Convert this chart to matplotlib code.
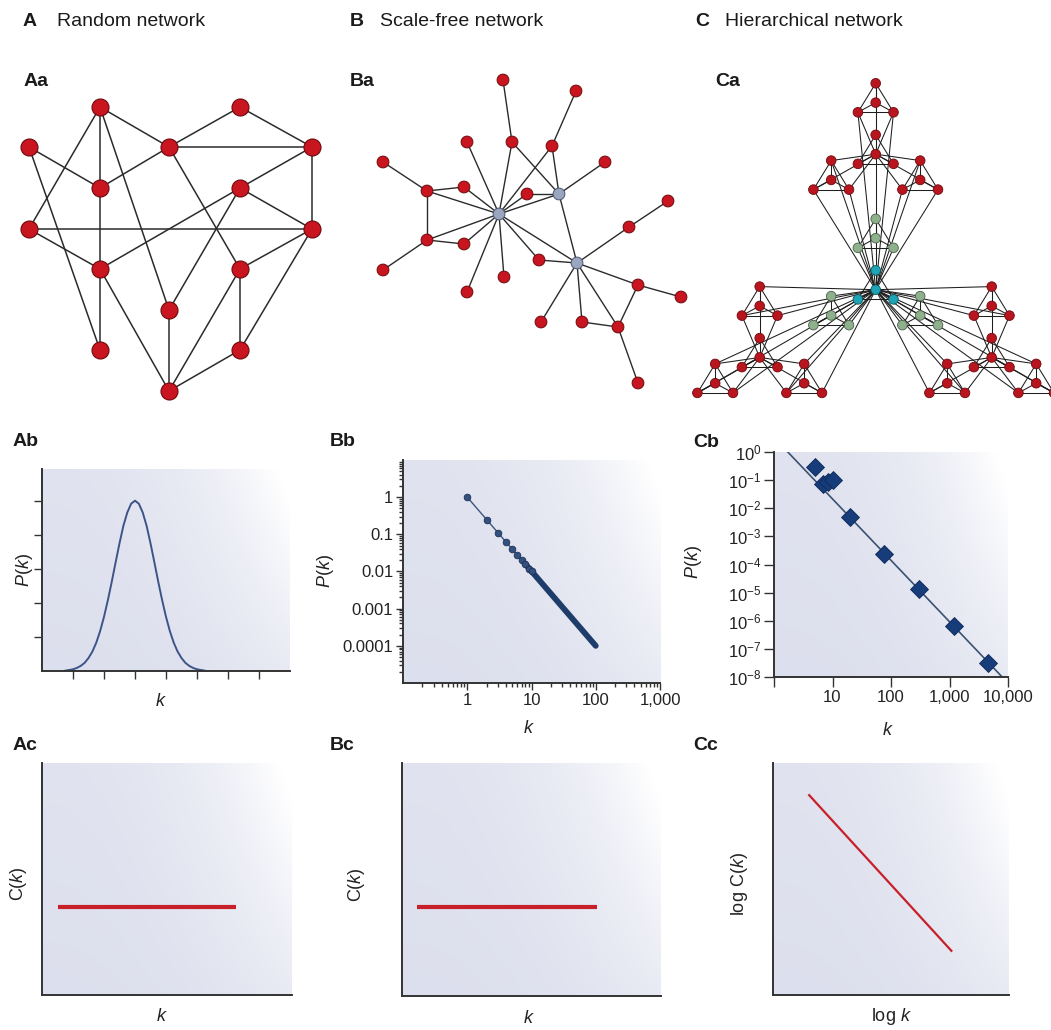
import numpy as np
import matplotlib
matplotlib.use('Agg')
import matplotlib.pyplot as plt
from matplotlib.collections import LineCollection
from matplotlib.ticker import FixedLocator, FixedFormatter, LogLocator, NullFormatter, NullLocator

W, H = 1051, 1030

# ---------------- data ----------------
# Aa: random network (node positions in picture pixels)
aa_x = [100, 240, 29, 169, 312, 100, 240, 29, 312, 100, 240, 169, 100, 240, 169]
aa_y = [107, 107, 147, 147, 147, 188, 188, 229, 229, 269, 269, 310, 350, 350, 391]
aa_edges = [(0, 3), (0, 5), (0, 7), (0, 11), (1, 3), (1, 4), (3, 4), (3, 5), (3, 10),
            (2, 5), (2, 12), (4, 6), (4, 8), (5, 9), (6, 8), (6, 9), (6, 11), (7, 8),
            (7, 9), (8, 10), (8, 13), (9, 12), (9, 14), (10, 13), (10, 14), (11, 14),
            (13, 14)]

# Ba: scale-free network, first three nodes are hubs
ba_x = [499, 559, 577, 503, 576, 512, 467, 552, 383, 605, 427, 464, 527, 668,
        629, 427, 464, 383, 539, 504, 467, 638, 681, 541, 582, 618, 638]
ba_y = [214, 194, 263, 80, 91, 142, 142, 146, 162, 162, 191, 187, 194, 201,
        227, 240, 244, 270, 260, 277, 292, 285, 297, 322, 322, 327, 383]
ba_hubs = [0, 1, 2]
ba_edges = [(3, 5), (5, 0), (5, 1), (4, 7), (7, 0), (7, 1), (6, 0), (8, 10), (10, 11),
            (10, 0), (10, 15), (11, 0), (12, 0), (12, 1), (0, 1), (9, 1), (1, 2),
            (13, 14), (14, 2), (15, 0), (15, 16), (15, 17), (16, 0), (0, 20), (0, 19),
            (0, 18), (0, 2), (18, 2), (2, 21), (21, 22), (21, 25), (2, 23), (2, 24),
            (2, 25), (24, 25), (25, 26)]

# Ca: hierarchical network (triangle apex, half widths and heights per level)
ca_apex = (875.7, 83.3)
ca_half_w = [17.8, 44.5, 116.0]
ca_height = [29.0, 77.3, 203.3]

# Ab: Poisson-like degree distribution (tick units)
ab_k = [0.75, 0.875, 1.0, 1.125, 1.25, 1.375, 1.5, 1.625, 1.75, 1.875, 2.0, 2.125,
        2.25, 2.375, 2.5, 2.625, 2.75, 2.875, 3.0, 3.125, 3.25, 3.375, 3.5, 3.625,
        3.75, 3.875, 4.0, 4.125, 4.25, 4.375, 4.5, 4.625, 4.75, 4.875, 5.0, 5.125, 5.25]
ab_p = [0.01, 0.03, 0.05, 0.09, 0.15, 0.24, 0.38, 0.57, 0.83, 1.17, 1.59, 2.08,
        2.62, 3.19, 3.75, 4.26, 4.65, 4.91, 5.0, 4.91, 4.65, 4.26, 3.75, 3.19,
        2.62, 2.08, 1.59, 1.17, 0.83, 0.57, 0.38, 0.24, 0.15, 0.09, 0.05, 0.03, 0.01]

# Bb: scale-free P(k)
bb_dot_k = [1, 2, 3, 4, 5, 6, 7, 8, 9, 10]
bb_dot_p = [1.0, 0.25, 0.11, 0.063, 0.04, 0.028, 0.02, 0.016, 0.012, 0.01]
bb_band_k = [8, 100]
bb_band_p = [0.016, 0.0001]
bb_fit_k = [1, 100]
bb_fit_p = [1, 0.0001]
bb_xticks = [1, 10, 100, 1000]
bb_xlabels = ['1', '10', '100', '1,000']
bb_yticks = [1, 0.1, 0.01, 0.001, 0.0001]
bb_ylabels = ['1', '0.1', '0.01', '0.001', '0.0001']

# Cb: hierarchical P(k)
cb_k = [5, 7, 8.5, 10, 20, 77, 300, 1200, 4600]
cb_p = [0.3, 0.075, 0.085, 0.1, 0.005, 2.3e-4, 1.3e-5, 6.3e-7, 3.1e-8]
cb_fit_k = [1.72, 7950]
cb_fit_p = [1, 1e-8]
cb_xticks = [1, 10, 100, 1000, 10000]
cb_xlabels = ['', '10', '100', '1,000', '10,000']
cb_yexp = [0, -1, -2, -3, -4, -5, -6, -7, -8]

# C(k) sketches (axes fractions)
ac_k, ac_c = [0.065, 0.776], [0.38, 0.38]
bc_k, bc_c = [0.058, 0.752], [0.38, 0.38]
cc_k, cc_c = [0.15, 0.759], [0.865, 0.187]

# ---------------- style ----------------
plt.rcParams['font.family'] = ['Liberation Sans', 'DejaVu Sans']
plt.rcParams['mathtext.fontset'] = 'custom'
plt.rcParams['mathtext.rm'] = 'Liberation Sans'
plt.rcParams['mathtext.it'] = 'Liberation Sans:italic'
plt.rcParams['mathtext.bf'] = 'Liberation Sans:bold'

RED = '#c8151f'
RED_EDGE = '#6e0a0e'
EDGE = '#2b2b2b'
NAVY = '#1f3d6b'
AX = '#333333'

fig = plt.figure(figsize=(W / 100, H / 100), dpi=100)


def px_rect(l, t, r, b):
    return [l / W, 1 - b / H, (r - l) / W, (b - t) / H]


# background: light lavender, fading to white towards the upper right
gx, gy = np.meshgrid(np.linspace(0, 1, 300), np.linspace(0, 1, 300))
base = np.array([0.865, 0.875, 0.93])
fade = np.clip(gx ** 2.5 * (0.35 + 0.65 * gy) + 0.12 * gy, 0, 1)
grad = base + (1 - base) * fade[..., None]


def panel(l, t, r, b):
    bg = fig.add_axes(px_rect(l, t, r, b), zorder=0)
    bg.imshow(grad, extent=[0, 1, 0, 1], aspect='auto', origin='lower')
    bg.axis('off')
    ax = fig.add_axes(px_rect(l, t, r, b), zorder=1)
    ax.patch.set_alpha(0)
    for s in ['top', 'right']:
        ax.spines[s].set_visible(False)
    for s in ['left', 'bottom']:
        ax.spines[s].set_linewidth(1.4)
        ax.spines[s].set_color(AX)
    ax.tick_params(which='both', colors=AX, width=1, direction='out', labelsize=12,
                   labelcolor='#222222')
    ax.tick_params(which='major', length=6)
    ax.tick_params(which='minor', length=3)
    return ax


def label(ax, x, y, s, rot=0):
    ax.text(x, y, s, transform=ax.transAxes, ha='center', va='center', rotation=rot,
            fontsize=13, color='#222222', clip_on=False)


# ---------------- networks (pixel coordinates) ----------------
net = fig.add_axes([0, 0, 1, 1], zorder=2)
net.set_xlim(0, W)
net.set_ylim(H, 0)
net.axis('off')
net.patch.set_alpha(0)

# Aa
segs = [[(aa_x[a], aa_y[a]), (aa_x[b], aa_y[b])] for a, b in aa_edges]
net.add_collection(LineCollection(segs, colors=EDGE, linewidths=1.1, zorder=1))
net.scatter(aa_x, aa_y, s=150, c=RED, edgecolors=RED_EDGE, linewidths=0.8, zorder=2)

# Ba
segs = [[(ba_x[a], ba_y[a]), (ba_x[b], ba_y[b])] for a, b in ba_edges]
net.add_collection(LineCollection(segs, colors=EDGE, linewidths=1.0, zorder=1))
cols = ['#9aa5bf' if i in ba_hubs else RED for i in range(len(ba_x))]
ecols = ['#4d5670' if i in ba_hubs else RED_EDGE for i in range(len(ba_x))]
net.scatter(ba_x, ba_y, s=72, c=cols, edgecolors=ecols, linewidths=0.7, zorder=2)

# Ca: modules of 4 nodes, replicated twice around a central copy
corners = ['apex', 'left', 'right', 'center']


def corner_off(level, c):
    w, h = ca_half_w[level], ca_height[level]
    return {'apex': (0, 0), 'left': (-w, h), 'right': (w, h), 'center': (0, 2 * h / 3)}[c]


pos = {}
for i in corners:
    for j in corners:
        for m in corners:
            o3, o2, o1 = corner_off(2, i), corner_off(1, j), corner_off(0, m)
            pos[(i, j, m)] = (ca_apex[0] + o3[0] + o2[0] + o1[0],
                              ca_apex[1] + o3[1] + o2[1] + o1[1])

ca_segs = []
outer = ['apex', 'left', 'right']
for i in corners:
    for j in corners:
        for a in range(4):
            for b in range(a + 1, 4):
                ca_segs.append([pos[(i, j, corners[a])], pos[(i, j, corners[b])]])
    for j in outer:
        for m in outer:
            ca_segs.append([pos[(i, j, m)], pos[(i, 'center', 'center')]])
for i in outer:
    for j in outer:
        for m in outer:
            ca_segs.append([pos[(i, j, m)], pos[('center', 'center', 'center')]])
net.add_collection(LineCollection(ca_segs, colors='#1e1e1e', linewidths=0.75, zorder=1))

cx, cy, cc, ce = [], [], [], []
for key, (x, y) in pos.items():
    cx.append(x)
    cy.append(y)
    if key[0] == 'center' and key[1] == 'center':
        cc.append('#1fa4b6'); ce.append('#0b5560')
    elif key[0] == 'center':
        cc.append('#8fb08c'); ce.append('#4a6048')
    else:
        cc.append('#b8151f'); ce.append(RED_EDGE)
net.scatter(cx, cy, s=48, c=cc, edgecolors=ce, linewidths=0.6, zorder=2)

# ---------------- texts ----------------
def ftext(x, y, s, **kw):
    fig.text(x / W, 1 - y / H, s, ha='left', va='center', color='#1a1a1a', **kw)


for letter, lx, name, nx in [('A', 23, 'Random network', 57),
                             ('B', 350, 'Scale-free network', 380),
                             ('C', 695, 'Hierarchical network', 725)]:
    ftext(lx, 21, letter, fontsize=14, fontweight='bold')
    ftext(nx, 21, name, fontsize=14)
for s, x, y in [('Aa', 24, 81), ('Ba', 350, 81), ('Ca', 715, 81),
                ('Ab', 13, 442), ('Bb', 330, 441), ('Cb', 693, 443),
                ('Ac', 13, 746), ('Bc', 330, 746), ('Cc', 693, 746)]:
    ftext(x, y, s, fontsize=14, fontweight='bold')

# ---------------- Ab ----------------
ax = panel(42, 469, 290, 671)
ax.plot(ab_k, ab_p, color='#3d5488', lw=1.4)
ax.set_xlim(0, 8)
ax.set_ylim(0, 5.93)
ax.set_xticks(range(1, 8))
ax.set_yticks(range(1, 6))
ax.tick_params(labelbottom=False, labelleft=False)
label(ax, 0.48, -0.152, '$k$')
label(ax, -0.069, 0.5, '$P(k)$', 90)

# ---------------- Bb ----------------
ax = panel(403, 460, 660, 683)
ax.set_xscale('log')
ax.set_yscale('log')
ax.set_xlim(0.1, 1000)
ax.set_ylim(1e-5, 10)
ax.plot(bb_fit_k, bb_fit_p, color='#3b5580', lw=1.0)
ax.plot(bb_band_k, bb_band_p, color=NAVY, lw=4.2, solid_capstyle='round')
ax.plot(bb_dot_k, bb_dot_p, 'o', ms=4.8, color='#34507e', mec='#1c3158', mew=0.6)
ax.xaxis.set_major_locator(FixedLocator(bb_xticks))
ax.xaxis.set_major_formatter(FixedFormatter(bb_xlabels))
ax.xaxis.set_minor_locator(LogLocator(subs=np.arange(2, 10), numticks=20))
ax.xaxis.set_minor_formatter(NullFormatter())
ax.yaxis.set_major_locator(FixedLocator(bb_yticks))
ax.yaxis.set_major_formatter(FixedFormatter(bb_ylabels))
ax.yaxis.set_minor_locator(LogLocator(subs=np.arange(2, 10), numticks=20))
ax.yaxis.set_minor_formatter(NullFormatter())
ax.tick_params(which='major', length=5, pad=2)
label(ax, 0.488, -0.203, '$k$')
label(ax, -0.30, 0.5, '$P(k)$', 90)

# ---------------- Cb ----------------
ax = panel(774, 452, 1008, 677)
ax.set_xscale('log')
ax.set_yscale('log')
ax.set_xlim(1, 1e4)
ax.set_ylim(1e-8, 1)
ax.plot(cb_fit_k, cb_fit_p, color='#3a5272', lw=1.2, zorder=2)
ax.plot(cb_k, cb_p, 'D', ms=9, color='#173c7a', mec='#0e2a5a', mew=0.6, zorder=3)
ax.xaxis.set_major_locator(FixedLocator(cb_xticks))
ax.xaxis.set_major_formatter(FixedFormatter(cb_xlabels))
ax.xaxis.set_minor_locator(NullLocator())
ax.yaxis.set_major_locator(FixedLocator([10.0 ** e for e in cb_yexp]))
ax.yaxis.set_major_formatter(FixedFormatter([r'$\mathregular{10^{%d}}$' % e for e in cb_yexp]))
ax.yaxis.set_minor_locator(NullLocator())
ax.tick_params(which='major', length=7, pad=2)
label(ax, 0.488, -0.236, '$k$')
label(ax, -0.346, 0.51, '$P(k)$', 90)

# ---------------- bottom row ----------------
for (l, t, r, b), xs, ys, lw, xl, yl, lx, ly, ylx in [
        ((42, 763, 292, 995), ac_k, ac_c, 3.0, '$k$', 'C($k$)', 0.479, -0.094, -0.095),
        ((402, 763, 661, 996), bc_k, bc_c, 3.0, '$k$', 'C($k$)', 0.49, -0.097, -0.176),
        ((773, 763, 1009, 995), cc_k, cc_c, 1.6, 'log $k$', 'log C($k$)', 0.503, -0.094, -0.141)]:
    ax = panel(l, t, r, b)
    ax.set_xlim(0, 1)
    ax.set_ylim(0, 1)
    ax.set_xticks([])
    ax.set_yticks([])
    ax.plot(xs, ys, color='#c8202a', lw=lw, solid_capstyle='butt')
    label(ax, lx, ly, xl)
    label(ax, ylx, 0.48, yl, 90)

fig.savefig('out.png', dpi=100)
